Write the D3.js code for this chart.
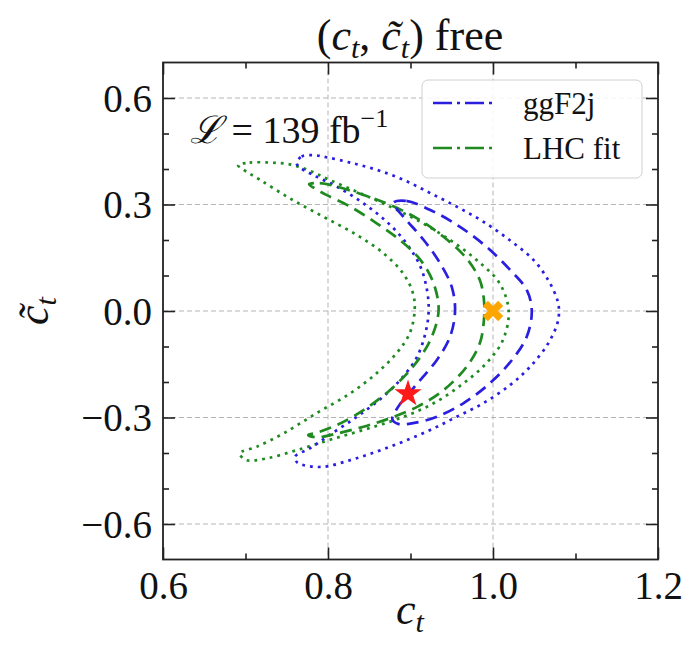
<!DOCTYPE html>
<html lang="en">
<head>
  <meta charset="UTF-8" />
  <title>(ct, ct~) free</title>
  <style>
    html, body {
      margin: 0;
      padding: 0;
      background: #fff;
    }
    svg { display: block; }
    text {
      font-family: "Liberation Serif", "DejaVu Serif", serif;
      fill: #111;
    }
  </style>
</head>
<body>
  <svg id="chart" width="692" height="660"></svg>

  <script src="https://d3js.org/d3.v7.min.js"></script>
  <script>
    // axis ticks
    const xTicks = [0.6, 0.8, 1.0, 1.2];
    const yTicks = [-0.6, -0.3, 0.0, 0.3, 0.6];
    const xMinor = [0.7, 0.9, 1.1];
    const yMinor = [-0.5, -0.4, -0.2, -0.1, 0.1, 0.2, 0.4, 0.5];

    // contours as (c_t, c~_t) pairs going round each loop
    const ggf2j2Sigma = [
      [0.762, 0.418], [0.768, 0.435], [0.782, 0.439], [0.798, 0.433], [0.827, 0.418],
      [0.860, 0.397], [0.892, 0.369], [0.924, 0.332], [0.956, 0.294], [0.988, 0.252],
      [1.020, 0.200], [1.049, 0.144], [1.067, 0.087], [1.078, 0.031], [1.080, 0.000],
      [1.078, -0.035], [1.067, -0.091], [1.045, -0.157], [1.021, -0.208], [0.988, -0.260],
      [0.956, -0.298], [0.924, -0.335], [0.891, -0.368], [0.859, -0.396], [0.827, -0.420],
      [0.794, -0.439], [0.770, -0.434], [0.762, -0.425], [0.760, -0.410],
      [0.778, -0.387], [0.802, -0.349], [0.835, -0.298], [0.867, -0.241], [0.891, -0.185],
      [0.908, -0.129], [0.918, -0.063], [0.922, 0.000], [0.920, 0.059], [0.912, 0.125],
      [0.895, 0.191], [0.871, 0.252], [0.843, 0.303], [0.811, 0.350], [0.782, 0.383],
      [0.764, 0.408]
    ];
    const ggf2j1Sigma = [
      [0.879, 0.305], [0.895, 0.310], [0.928, 0.280], [0.960, 0.237], [0.992, 0.181],
      [1.021, 0.115], [1.041, 0.059], [1.047, 0.000], [1.041, -0.072], [1.023, -0.138],
      [0.996, -0.204], [0.964, -0.260], [0.932, -0.298], [0.903, -0.316], [0.885, -0.318],
      [0.878, -0.305],
      [0.885, -0.270], [0.895, -0.241], [0.912, -0.194], [0.932, -0.138], [0.948, -0.072],
      [0.954, 0.000], [0.950, 0.068], [0.936, 0.134], [0.916, 0.200], [0.895, 0.256],
      [0.883, 0.289]
    ];
    const lhc2Sigma = [
      [0.691, 0.411], [0.705, 0.418], [0.730, 0.418], [0.754, 0.413], [0.778, 0.395],
      [0.802, 0.369], [0.835, 0.336], [0.867, 0.303], [0.908, 0.256], [0.948, 0.200],
      [0.980, 0.144], [1.008, 0.078], [1.019, 0.000], [1.012, -0.082], [0.992, -0.147],
      [0.964, -0.204], [0.928, -0.260], [0.887, -0.302], [0.843, -0.335], [0.802, -0.363],
      [0.762, -0.392], [0.726, -0.415], [0.701, -0.420], [0.693, -0.401],
      [0.714, -0.382], [0.746, -0.345], [0.786, -0.288], [0.827, -0.232], [0.859, -0.175],
      [0.883, -0.119], [0.899, -0.063], [0.905, 0.000], [0.903, 0.050], [0.891, 0.106],
      [0.867, 0.163], [0.835, 0.214], [0.794, 0.266], [0.754, 0.317], [0.718, 0.369],
      [0.697, 0.399]
    ];
    const lhc1Sigma = [
      [0.777, 0.357], [0.790, 0.360], [0.811, 0.350], [0.843, 0.327], [0.875, 0.299],
      [0.908, 0.261], [0.940, 0.209], [0.968, 0.148], [0.984, 0.087], [0.989, 0.031],
      [0.989, -0.025], [0.984, -0.091], [0.968, -0.157], [0.940, -0.223], [0.908, -0.270],
      [0.875, -0.302], [0.843, -0.326], [0.811, -0.345], [0.786, -0.356], [0.776, -0.349],
      [0.786, -0.343], [0.811, -0.321], [0.843, -0.279], [0.875, -0.223], [0.903, -0.157],
      [0.924, -0.082], [0.934, 0.000], [0.928, 0.078], [0.912, 0.144], [0.887, 0.200],
      [0.859, 0.247], [0.827, 0.294], [0.798, 0.327], [0.782, 0.348]
    ];

    const bestFit = [0.897, -0.233];   // red star
    const smPoint = [1.0, 0.0];        // orange cross
    const legendLabels = ["ggF2j", "LHC fit"];

    const BLUE = "#2a1ee0";
    const GREEN = "#1f8a1f";

    const svg = d3.select("#chart");
    const plotL = 163, plotR = 658, plotT = 62.5, plotB = 559.5;

    const x = d3.scaleLinear().domain([0.6, 1.2]).range([plotL, plotR]);
    const y = d3.scaleLinear().domain([-0.7, 0.7]).range([plotB, plotT]);

    // grid
    const grid = svg.append("g")
      .attr("stroke", "#b5b5b5")
      .attr("stroke-width", 1)
      .attr("stroke-dasharray", "5,3");
    grid.selectAll(".gx").data(xTicks.slice(1, -1)).join("line")
      .attr("x1", d => x(d)).attr("x2", d => x(d))
      .attr("y1", plotT).attr("y2", plotB);
    grid.selectAll(".gy").data(yTicks).join("line")
      .attr("x1", plotL).attr("x2", plotR)
      .attr("y1", d => y(d)).attr("y2", d => y(d));

    // contours
    const line = d3.line()
      .x(d => x(d[0]))
      .y(d => y(d[1]))
      .curve(d3.curveCatmullRomClosed.alpha(0.5));

    const contours = [
      { pts: lhc2Sigma, color: GREEN, dash: "2.8,5" },
      { pts: ggf2j2Sigma, color: BLUE, dash: "2.8,5" },
      { pts: lhc1Sigma, color: GREEN, dash: "12,7" },
      { pts: ggf2j1Sigma, color: BLUE, dash: "12,7" }
    ];
    svg.append("g").selectAll("path").data(contours).join("path")
      .attr("d", d => line(d.pts))
      .attr("fill", "none")
      .attr("stroke", d => d.color)
      .attr("stroke-width", 2.7)
      .attr("stroke-dasharray", d => d.dash);

    // markers
    svg.append("path")
      .attr("d", d3.symbol(d3.symbolCross, 260)())
      .attr("transform", `translate(${x(smPoint[0])},${y(smPoint[1])}) rotate(45)`)
      .attr("fill", "#ffa500");
    svg.append("path")
      .attr("d", d3.symbol(d3.symbolStar, 230)())
      .attr("transform", `translate(${x(bestFit[0])},${y(bestFit[1])})`)
      .attr("fill", "#ff1a1a");

    // axes, ticks pointing inward on all four sides
    const fmt = d3.format(".1f");
    const gb = svg.append("g").attr("transform", `translate(0,${plotB})`)
      .call(d3.axisBottom(x).tickValues(xTicks).tickFormat(fmt).tickSizeInner(-12).tickSizeOuter(0).tickPadding(4));
    const gl = svg.append("g").attr("transform", `translate(${plotL},0)`)
      .call(d3.axisLeft(y).tickValues(yTicks).tickFormat(fmt).tickSizeInner(-12).tickSizeOuter(0).tickPadding(11));
    svg.append("g").attr("transform", `translate(0,${plotT})`)
      .call(d3.axisTop(x).tickValues(xTicks).tickFormat("").tickSizeInner(-12).tickSizeOuter(0));
    svg.append("g").attr("transform", `translate(${plotR},0)`)
      .call(d3.axisRight(y).tickValues(yTicks).tickFormat("").tickSizeInner(-12).tickSizeOuter(0));

    svg.append("g").attr("transform", `translate(0,${plotB})`)
      .call(d3.axisBottom(x).tickValues(xMinor).tickFormat("").tickSizeInner(-6).tickSizeOuter(0));
    svg.append("g").attr("transform", `translate(0,${plotT})`)
      .call(d3.axisTop(x).tickValues(xMinor).tickFormat("").tickSizeInner(-6).tickSizeOuter(0));
    svg.append("g").attr("transform", `translate(${plotL},0)`)
      .call(d3.axisLeft(y).tickValues(yMinor).tickFormat("").tickSizeInner(-6).tickSizeOuter(0));
    svg.append("g").attr("transform", `translate(${plotR},0)`)
      .call(d3.axisRight(y).tickValues(yMinor).tickFormat("").tickSizeInner(-6).tickSizeOuter(0));

    svg.selectAll(".domain").remove();
    svg.selectAll(".tick line").attr("stroke", "#222").attr("stroke-width", 1.6);
    svg.selectAll(".tick text")
      .style("font-family", "'Liberation Serif', serif")
      .style("font-size", "39px")
      .attr("fill", "#111");
    gl.selectAll(".tick text").attr("dy", "0.34em");
    gb.selectAll(".tick text").attr("dy", "0.9em");

    // frame
    svg.append("rect")
      .attr("x", plotL).attr("y", plotT)
      .attr("width", plotR - plotL).attr("height", plotB - plotT)
      .attr("fill", "none")
      .attr("stroke", "#222")
      .attr("stroke-width", 1.8);

    // legend
    const lg = svg.append("g");
    lg.append("rect")
      .attr("x", 422).attr("y", 80).attr("width", 220).attr("height", 98)
      .attr("rx", 6)
      .attr("fill", "#fff").attr("fill-opacity", 0.85)
      .attr("stroke", "#d0d0d0").attr("stroke-width", 1);
    legendLabels.forEach((label, i) => {
      const ly = 103 + i * 45;
      lg.append("line")
        .attr("x1", 433).attr("x2", 493)
        .attr("y1", ly).attr("y2", ly)
        .attr("stroke", i === 0 ? BLUE : GREEN)
        .attr("stroke-width", 2.6)
        .attr("stroke-dasharray", "19,5,3,5");
      lg.append("text")
        .attr("x", 523).attr("y", ly + 11)
        .style("font-size", "31px")
        .text(label);
    });

    // luminosity note
    const lum = svg.append("text")
      .attr("x", 190).attr("y", 143)
      .style("font-size", "38px");
    lum.append("tspan").style("font-style", "italic").style("font-family", "'DejaVu Serif', serif").text("ℒ");
    lum.append("tspan").text(" = 139 fb");
    lum.append("tspan").attr("dy", -16).style("font-size", "26px").text("−1");

    // title
    const title = svg.append("text")
      .attr("x", 410).attr("y", 50)
      .attr("text-anchor", "middle")
      .style("font-size", "44px");
    title.append("tspan").text("(");
    title.append("tspan").style("font-style", "italic").text("c");
    title.append("tspan").attr("dy", 8).style("font-size", "30px").style("font-style", "italic").text("t");
    title.append("tspan").attr("dy", -8).text(", ");
    title.append("tspan").style("font-style", "italic").text("c\u0303");
    title.append("tspan").attr("dy", 8).style("font-size", "30px").style("font-style", "italic").text("t");
    title.append("tspan").attr("dy", -8).text(") free");

    // axis labels
    const xl = svg.append("text")
      .attr("x", 410).attr("y", 624)
      .attr("text-anchor", "middle")
      .style("font-size", "44px")
      .style("font-style", "italic");
    xl.append("tspan").text("c");
    xl.append("tspan").attr("dy", 8).style("font-size", "30px").text("t");

    const yl = svg.append("text")
      .attr("transform", `translate(48,${y(0)}) rotate(-90)`)
      .attr("text-anchor", "middle")
      .style("font-size", "44px")
      .style("font-style", "italic");
    yl.append("tspan").text("c\u0303");
    yl.append("tspan").attr("dy", 8).style("font-size", "30px").text("t");
  </script>
</body>
</html>
